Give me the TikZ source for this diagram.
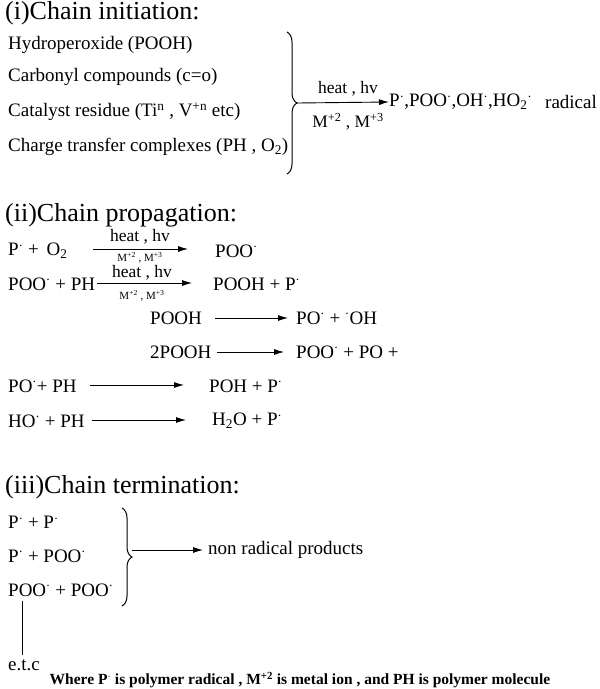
\documentclass[tikz,border=0pt]{standalone}
\usepackage{fontspec}
\setmainfont{Liberation Serif}
\usetikzlibrary{decorations.pathreplacing,arrows.meta}
\newcommand{\rad}{\textsuperscript{\textbf{$\cdot$}}}
\tikzset{
  txt/.style={anchor=west, inner sep=0pt, font=\fontsize{19}{22}\selectfont},
  head/.style={anchor=west, inner sep=0pt, font=\fontsize{26}{30}\selectfont},
  cond/.style={inner sep=0pt, font=\fontsize{17.5}{20}\selectfont},
  small/.style={inner sep=0pt, font=\fontsize{11}{12}\selectfont},
  rxn/.style={-{Latex[length=10pt,width=6pt]}, line width=0.9pt},
  brc/.style={decorate, decoration={brace, amplitude=10pt}, line width=1pt}
}
\begin{document}
\begin{tikzpicture}[x=1pt, y=-1pt]
\useasboundingbox (0,0) rectangle (600,689);
% (i) initiation
\node[head] (h1) at (5,13) {(i)Chain initiation:};
\node[txt] (src1) at (8,45) {Hydroperoxide (POOH)};
\node[txt] (src2) at (8,77) {Carbonyl compounds (c=o)};
\node[txt] (src3) at (8,112) {Catalyst residue (Ti\textsuperscript{n} , V\textsuperscript{+n} etc)};
\node[txt] (src4) at (8,147) {Charge transfer complexes (PH , O\textsubscript{2})};
\draw[brc] (287,32) -- (287,174);
\coordinate (tip1) at (297,103);
\node[txt] (prod1) at (389,102) {P\rad,POO\rad,OH\rad,HO\textsubscript{2}\rad};
\node[txt] (radical) at (545,102) {radical};
\draw[rxn] (tip1) -- (prod1.west);
\node[cond] (c1a) at (348,89) {heat , hv};
\node[cond] (c1b) at (348,122) {M\textsuperscript{+2} , M\textsuperscript{+3}};
% (ii) propagation
\node[head] (h2) at (5,215) {(ii)Chain propagation:};
\node[txt] (r1) at (8,251) {P\rad{} +\, O\textsubscript{2}};
\node[txt] (p1) at (215,251) {POO\rad};
\draw[rxn] (93,249) -- (188,249);
\node[cond] (c2a) at (140,237) {heat , hv};
\node[small] (c2b) at (140,258) {M\textsuperscript{+2} , M\textsuperscript{+3}};
\node[txt] (r2) at (8,284) {POO\rad{} + PH};
\node[txt] (p2) at (213,284) {POOH + P\rad};
\draw[rxn] (97,283) -- (192,283);
\node[cond] (c3a) at (142,273) {heat , hv};
\node[small] (c3b) at (142,296) {M\textsuperscript{+2} , M\textsuperscript{+3}};
\node[txt] (r3) at (150,318) {POOH};
\node[txt] (p3) at (296,318) {PO\rad{} + \textsuperscript{$\cdot$}OH};
\draw[rxn] (215,318) -- (288,318);
\node[txt] (r4) at (150,352) {2POOH};
\node[txt] (p4) at (296,352) {POO\rad{} + PO +};
\draw[rxn] (217,352) -- (284,352);
\node[txt] (r5) at (8,386) {PO\rad+ PH};
\node[txt] (p5) at (209,386) {POH + P\rad};
\draw[rxn] (90,385) -- (184,385);
\node[txt] (r6) at (8,421) {HO\rad{} + PH};
\node[txt] (p6) at (212,421) {H\textsubscript{2}O + P\rad};
\draw[rxn] (92,420) -- (186,420);
% (iii) termination
\node[head] (h3) at (5,487) {(iii)Chain termination:};
\node[txt] (t1) at (8,522) {P\rad{} + P\rad};
\node[txt] (t2) at (8,556) {P\rad{} + POO\rad};
\node[txt] (t3) at (8,590) {POO\rad{} + POO\rad};
\draw[brc] (122,508) -- (122,606);
\coordinate (tip2) at (132,550);
\node[txt] (nrp) at (208,550) {non radical products};
\draw[rxn] (tip2) -- (203,550);
\coordinate (etctop) at (22,601);
\node[txt] (etc) at (8,665) {e.t.c};
\draw[line width=0.9pt] (etctop) -- (22,655);
\node[inner sep=0pt, font=\fontsize{15.5}{18}\selectfont\bfseries] (note) at (300,680)
  {Where P\rad{} is polymer radical , M\textsuperscript{+2} is metal ion , and PH is polymer molecule};
\end{tikzpicture}
\end{document}
